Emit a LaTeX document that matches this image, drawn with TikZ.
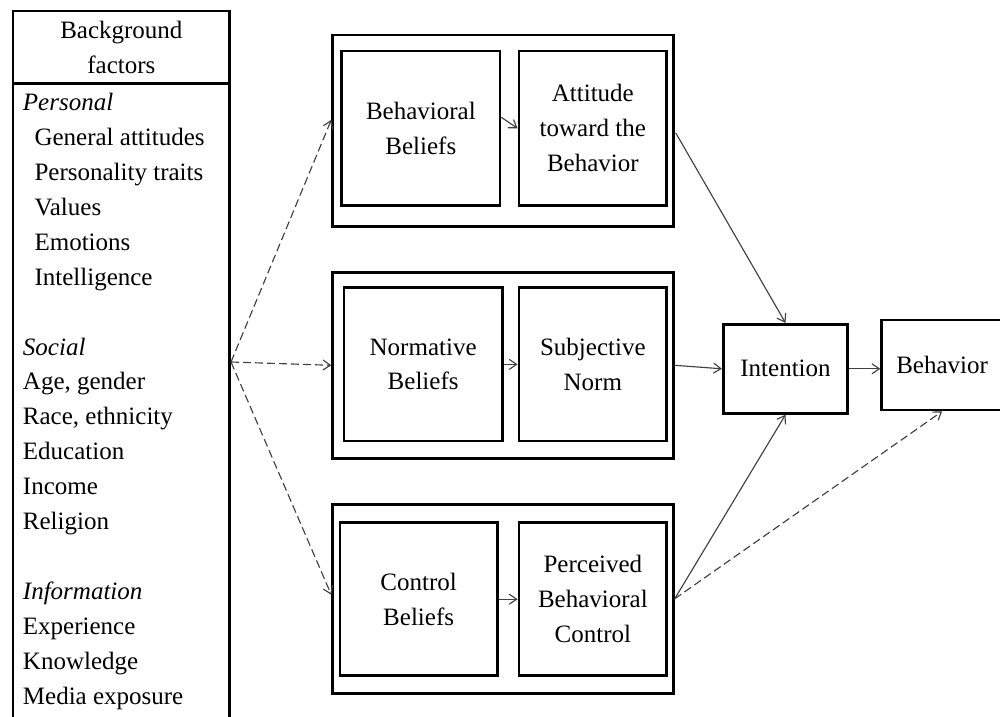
\documentclass[tikz,border=0pt]{standalone}
\usepackage{fontspec}
\setmainfont{Liberation Serif}
\usetikzlibrary{arrows.meta,calc}
\begin{document}
\begin{tikzpicture}[x=0.75pt,y=-0.75pt,
  font=\fontsize{18.75pt}{26.2pt}\selectfont,
  pbox/.style n args={2}{draw, line width=2.1pt, rectangle, inner sep=0pt,
    minimum width={#1*0.75pt}, minimum height={#2*0.75pt}, align=center},
  lt/.style={anchor=base west, inner sep=0pt},
  conn/.style={draw=black!75, line width=0.85pt, -{Straight Barb[length=5.5pt,width=7.5pt]}},
  dconn/.style={conn, dash pattern=on 6pt off 3pt}]
\clip (0,0) rectangle (1000,717);
\fill[white] (0,0) rectangle (1000,717);

% Background factors box
\node[pbox={216.7}{72.3}] (hdr) at (121.35,47.15) {Background\\factors};
\node[pbox={216.7}{641.7}] (body) at (121.35,404.15) {};
\foreach \txt/\xx/\n [count=\i] in {
  {\textit{Personal}}/22.7/0, {General attitudes}/34.3/1, {Personality traits}/34.3/2,
  {Values}/34.3/3, {Emotions}/34.3/4, {Intelligence}/34.3/5,
  {\textit{Social}}/22.7/7, {Age, gender}/22.7/8, {Race, ethnicity}/22.7/9,
  {Education}/22.7/10, {Income}/22.7/11, {Religion}/22.7/12,
  {\textit{Information}}/22.7/14, {Experience}/22.7/15, {Knowledge}/22.7/16,
  {Media exposure}/22.7/17}
  \node[lt] (f\i) at (\xx,{110.7+34.9*\n}) {\txt};
\coordinate (src) at (231,362);

% Attitude block
\node[pbox={340.6}{191.7}] (tpo) at (503,130.85) {};
\node[pbox={158.3}{154.7}] (bb) at (420.85,128.35) {Behavioral\\Beliefs};
\node[pbox={147.7}{154.7}] (att) at (592.85,128.35) {Attitude\\toward the\\Behavior};

% Norm block
\node[pbox={340.6}{186}] (mdo) at (503,365.3) {};
\node[pbox={158.3}{153.3}] (nb) at (423.15,364.35) {Normative\\Beliefs};
\node[pbox={147.7}{153.3}] (sn) at (592.85,364.35) {Subjective\\Norm};

% Control block
\node[pbox={340.6}{189}] (bto) at (503,598.8) {};
\node[pbox={157.3}{153}] (cb) at (418.65,599.2) {Control\\Beliefs};
\node[pbox={147.7}{153}] (pbc) at (592.85,599.2) {Perceived\\Behavioral\\Control};

% Intention and behavior
\node[pbox={124.4}{89}] (int) at (785.5,368.8) {Intention};
\node[pbox={120.8}{90}] (beh) at (942.1,365) {Behavior};

% connectors
\draw[dconn] (src) -- ($(tpo.west)+(0,-11)$);
\draw[dconn] (src) -- (mdo.west);
\draw[dconn] (src) -- ($(bto.west)+(0,-4)$);

\draw[conn] ($(bb.east)+(0,-11)$) -- (att.west);
\draw[conn] (nb.east) -- (sn.west);
\draw[conn] (cb.east) -- (pbc.west);

\draw[conn] ($(tpo.east)+(1,2)$) -- (int.north);
\draw[conn] (mdo.east) -- (int.west);
\draw[conn] (bto.east) -- (int.south);
\draw[dconn] (bto.east) -- (beh.south);
\draw[conn] (int.east) -- (int.east -| beh.west);
\end{tikzpicture}
\end{document}
